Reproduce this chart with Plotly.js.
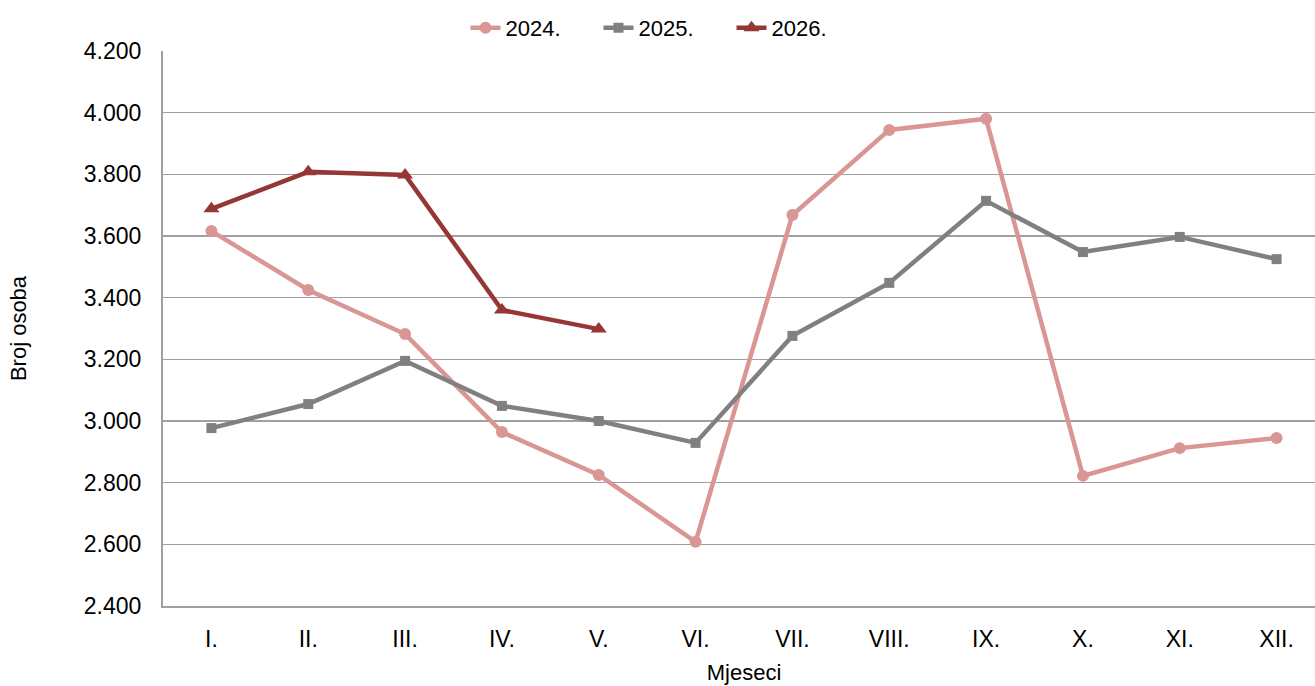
<!DOCTYPE html>
<html>
<head>
<meta charset="utf-8">
<script src="https://cdn.plot.ly/plotly-3.0.1.min.js"></script>
<style>
html, body { margin: 0; padding: 0; overflow: hidden; background: #fff; }
#chart { width: 1330px; height: 686px; }
</style>
</head>
<body>
<div id="chart"></div>
<script>
const months = ['I.', 'II.', 'III.', 'IV.', 'V.', 'VI.', 'VII.', 'VIII.', 'IX.', 'X.', 'XI.', 'XII.'];
const values2024 = [3616, 3425, 3282, 2964, 2825, 2608, 3668, 3944, 3980, 2822, 2912, 2945];
const values2025 = [2977, 3055, 3195, 3049, 3000, 2929, 3276, 3448, 3714, 3548, 3597, 3525];
const months2026 = ['I.', 'II.', 'III.', 'IV.', 'V.'];
const values2026 = [3688, 3808, 3798, 3360, 3298];
const yTicks = [2400, 2600, 2800, 3000, 3200, 3400, 3600, 3800, 4000, 4200];

const font = 'Liberation Sans, Arial, sans-serif';

const traces = [
  { x: months, y: values2024, name: '2024.', type: 'scatter', mode: 'lines+markers',
    line: { color: '#D99694', width: 4.5 }, marker: { symbol: 'circle', size: 12, color: '#D99694' } },
  { x: months, y: values2025, name: '2025.', type: 'scatter', mode: 'lines+markers',
    line: { color: '#808080', width: 4.5 }, marker: { symbol: 'square', size: 10, color: '#808080' } },
  { x: months2026, y: values2026, name: '2026.', type: 'scatter', mode: 'lines+markers',
    line: { color: '#953735', width: 4.5 }, marker: { symbol: 'triangle-up', size: 14, color: '#953735' } }
];

const layout = {
  width: 1330, height: 686,
  margin: { l: 163, r: 5, t: 51, b: 80 },
  paper_bgcolor: '#fff', plot_bgcolor: '#fff',
  separators: ',.',
  font: { family: font, color: '#000', size: 22 },
  showlegend: true,
  legend: { orientation: 'h', xref: 'container', x: 0.5, xanchor: 'center', yref: 'container', y: 0.99, yanchor: 'top',
            font: { size: 22, family: font }, tracegroupgap: 0, entrywidth: 88, entrywidthmode: 'pixels' },
  xaxis: {
    type: 'category', categoryarray: months, categoryorder: 'array', range: [-0.5, 11.5],
    showgrid: false, zeroline: false, showline: true, linecolor: '#A0A0A0', linewidth: 2,
    ticks: '', ticklabelstandoff: 11, tickfont: { size: 23, family: font },
    title: { text: 'Mjeseci', font: { size: 22, family: font }, standoff: 14 },
    automargin: false, fixedrange: true
  },
  yaxis: {
    range: [2400, 4200], tickvals: yTicks, tickformat: ',d',
    showgrid: true, gridcolor: '#A0A0A0', gridwidth: 1.5, zeroline: false,
    showline: true, linecolor: '#A0A0A0', linewidth: 2, ticks: '', ticklabelstandoff: 15,
    tickfont: { size: 23, family: font },
    title: { text: 'Broj osoba', font: { size: 22, family: font }, standoff: 51 },
    automargin: false, fixedrange: true
  }
};

Plotly.newPlot('chart', traces, layout, { displayModeBar: false, staticPlot: true });
</script>
</body>
</html>
